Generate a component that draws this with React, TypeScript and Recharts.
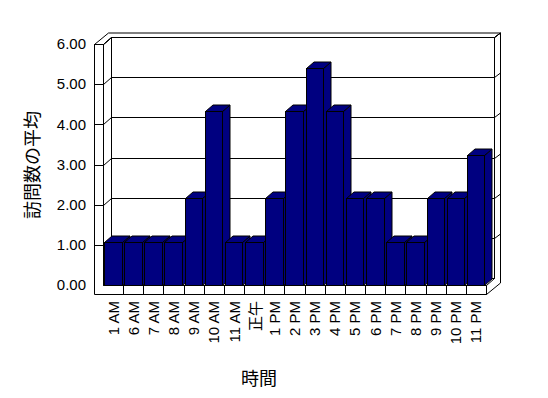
import React from 'react';
import { BarChart, Bar, XAxis, YAxis, CartesianGrid, ReferenceArea, Label } from 'recharts';

const hours = ['1 AM', '6 AM', '7 AM', '8 AM', '9 AM', '10 AM', '11 AM', '正午', '1 PM', '2 PM', '3 PM', '4 PM', '5 PM', '6 PM', '7 PM', '8 PM', '9 PM', '10 PM', '11 PM'];
const visits = [1.08, 1.08, 1.08, 1.08, 2.16, 4.32, 1.08, 1.08, 2.16, 4.32, 5.4, 4.32, 2.16, 2.16, 1.08, 1.08, 2.16, 2.16, 3.24];
const yTicks = [0, 1, 2, 3, 4, 5, 6];
const xTitle = '時間';
const yTitle = '訪問数の平均';

const data = hours.map((h, i) => ({ hour: h, visits: visits[i] }));

const CW = 548;
const CH = 398;
const FILL = '#000080';
const D1 = { x: 8, y: -7 };
const D2 = { x: 14, y: -11.5 };
const WALL = 9;
const FLOOR = 9;
const BAR_D = { x: 7.5, y: -6.5 };
const FONT = '"Liberation Sans", Arial, sans-serif';
const CJK = '"Noto Sans CJK JP", sans-serif';
const Y_AXIS_W = 60;
const X_AXIS_H = 80;
const MARGIN = { top: 44, right: 62, bottom: 33, left: 43 };
const PLOT_BOTTOM = CH - MARGIN.bottom - X_AXIS_H;

const r = (v: number) => Math.round(v) + 0.5;
const pts = (a: number[][]) => a.map(([x, y]) => `${x},${y}`).join(' ');

const Bar3D = (p: any) => {
  const { x, y, width, height } = p;
  if (height == null || width == null) return null;
  const x0 = r(x);
  const x1 = r(x + width);
  const y0 = r(y);
  const y1 = r(y + height);
  const dx = BAR_D.x;
  const dy = BAR_D.y;
  return (
    <g stroke="#000" strokeWidth={1} fill={FILL}>
      <polygon points={pts([[x1, y0], [x1 + dx, y0 + dy], [x1 + dx, y1 + dy], [x1, y1]])} />
      <polygon points={pts([[x0, y0], [x0 + dx, y0 + dy], [x1 + dx, y0 + dy], [x1, y0]])} />
      <rect x={x0} y={y0} width={x1 - x0} height={y1 - y0} />
    </g>
  );
};

const Frame = (p: any) => {
  const L = r(p.x);
  const R = r(p.x + p.width);
  const T = r(p.y);
  const B = r(p.y + p.height);
  const n = hours.length;
  const step = (p.width) / n;
  const ticks = [];
  for (let i = 1; i < n; i++) {
    const tx = r(p.x + step * i);
    ticks.push(<line key={i} x1={tx} y1={B} x2={tx} y2={B + FLOOR} />);
  }
  return (
    <g stroke="#000" strokeWidth={1} fill="none">
      <polygon points={pts([[L - WALL, T], [L, T], [L, B], [R, B], [R, B + FLOOR], [L - WALL, B + FLOOR]])} />
      <polygon points={pts([[L - WALL, T], [L - WALL + D2.x, T + D2.y], [R + D2.x, T + D2.y], [R + D1.x, T + D1.y], [L + D1.x, T + D1.y], [L, T]])} />
      <polygon points={pts([[L, T], [L + D1.x, T + D1.y], [L + D1.x, B + D1.y], [L, B]])} />
      <polygon points={pts([[L + D1.x, T + D1.y], [R + D1.x, T + D1.y], [R + D1.x, B + D1.y], [L + D1.x, B + D1.y]])} />
      <polygon points={pts([[R, B], [R + D1.x, B + D1.y], [R + D1.x, T + D1.y], [R + D2.x, T + D2.y], [R + D2.x, B + FLOOR + D2.y], [R, B + FLOOR]])} />
      {ticks}
    </g>
  );
};

const GridLine = (p: any) => {
  const { x1, x2, y1 } = p;
  if (Math.abs(y1 - PLOT_BOTTOM) < 1) return <g key={p.key} />;
  const L = r(x1);
  const R = r(x2);
  const y = r(y1);
  return (
    <g key={p.key} stroke="#000" strokeWidth={1} fill="none">
      <polyline points={pts([[L - WALL, y], [L, y], [L + D1.x, y + D1.y], [R + D1.x, y + D1.y], [R + D2.x, y + D2.y]])} />
    </g>
  );
};

const XTick = (p: any) => {
  const { x, y, payload } = p;
  const ty = y + 16;
  return (
    <text
      x={x}
      y={ty}
      transform={`rotate(-90 ${x} ${ty})`}
      textAnchor="end"
      dominantBaseline="central"
      fontSize={15}
      fontFamily={payload.value === '正午' ? CJK : FONT}
      fill="#000"
    >
      {payload.value}
    </text>
  );
};

const renderXTitle = () => (
  <text x={259} y={377} textAnchor="middle" dominantBaseline="central" fontSize={18} fontFamily={CJK} fill="#000">
    {xTitle}
  </text>
);

const renderYTitle = () => (
  <text x={31} y={165} transform="rotate(-90 31 165)" textAnchor="middle" dominantBaseline="central" fontSize={18} fontFamily={CJK} fill="#000">
    {yTitle}
  </text>
);

export default function App() {
  return (
    <div style={{ position: 'absolute', left: 0, top: 0, width: CW, height: CH, background: '#fff' }}>
      <BarChart width={CW} height={CH} data={data} margin={MARGIN} barSize={17.5}>
        <CartesianGrid vertical={false} horizontal={GridLine as any} />
        <ReferenceArea y1={0} y2={6} shape={Frame} ifOverflow="visible" />
        <XAxis
          dataKey="hour"
          interval={0}
          height={X_AXIS_H}
          axisLine={false}
          tickLine={false}
          tickSize={0}
          tickMargin={0}
          tick={XTick}
          label={<Label content={renderXTitle} />}
        />
        <YAxis
          width={Y_AXIS_W}
          domain={[0, 6]}
          ticks={yTicks}
          interval={0}
          axisLine={false}
          tickLine={false}
          tickSize={0}
          tickMargin={17}
          tickFormatter={(v: number) => v.toFixed(2)}
          tick={{ fontSize: 15, fill: '#000', fontFamily: FONT }}
          label={<Label content={renderYTitle} />}
        />
        <Bar dataKey="visits" shape={Bar3D} isAnimationActive={false} />
      </BarChart>
    </div>
  );
}
